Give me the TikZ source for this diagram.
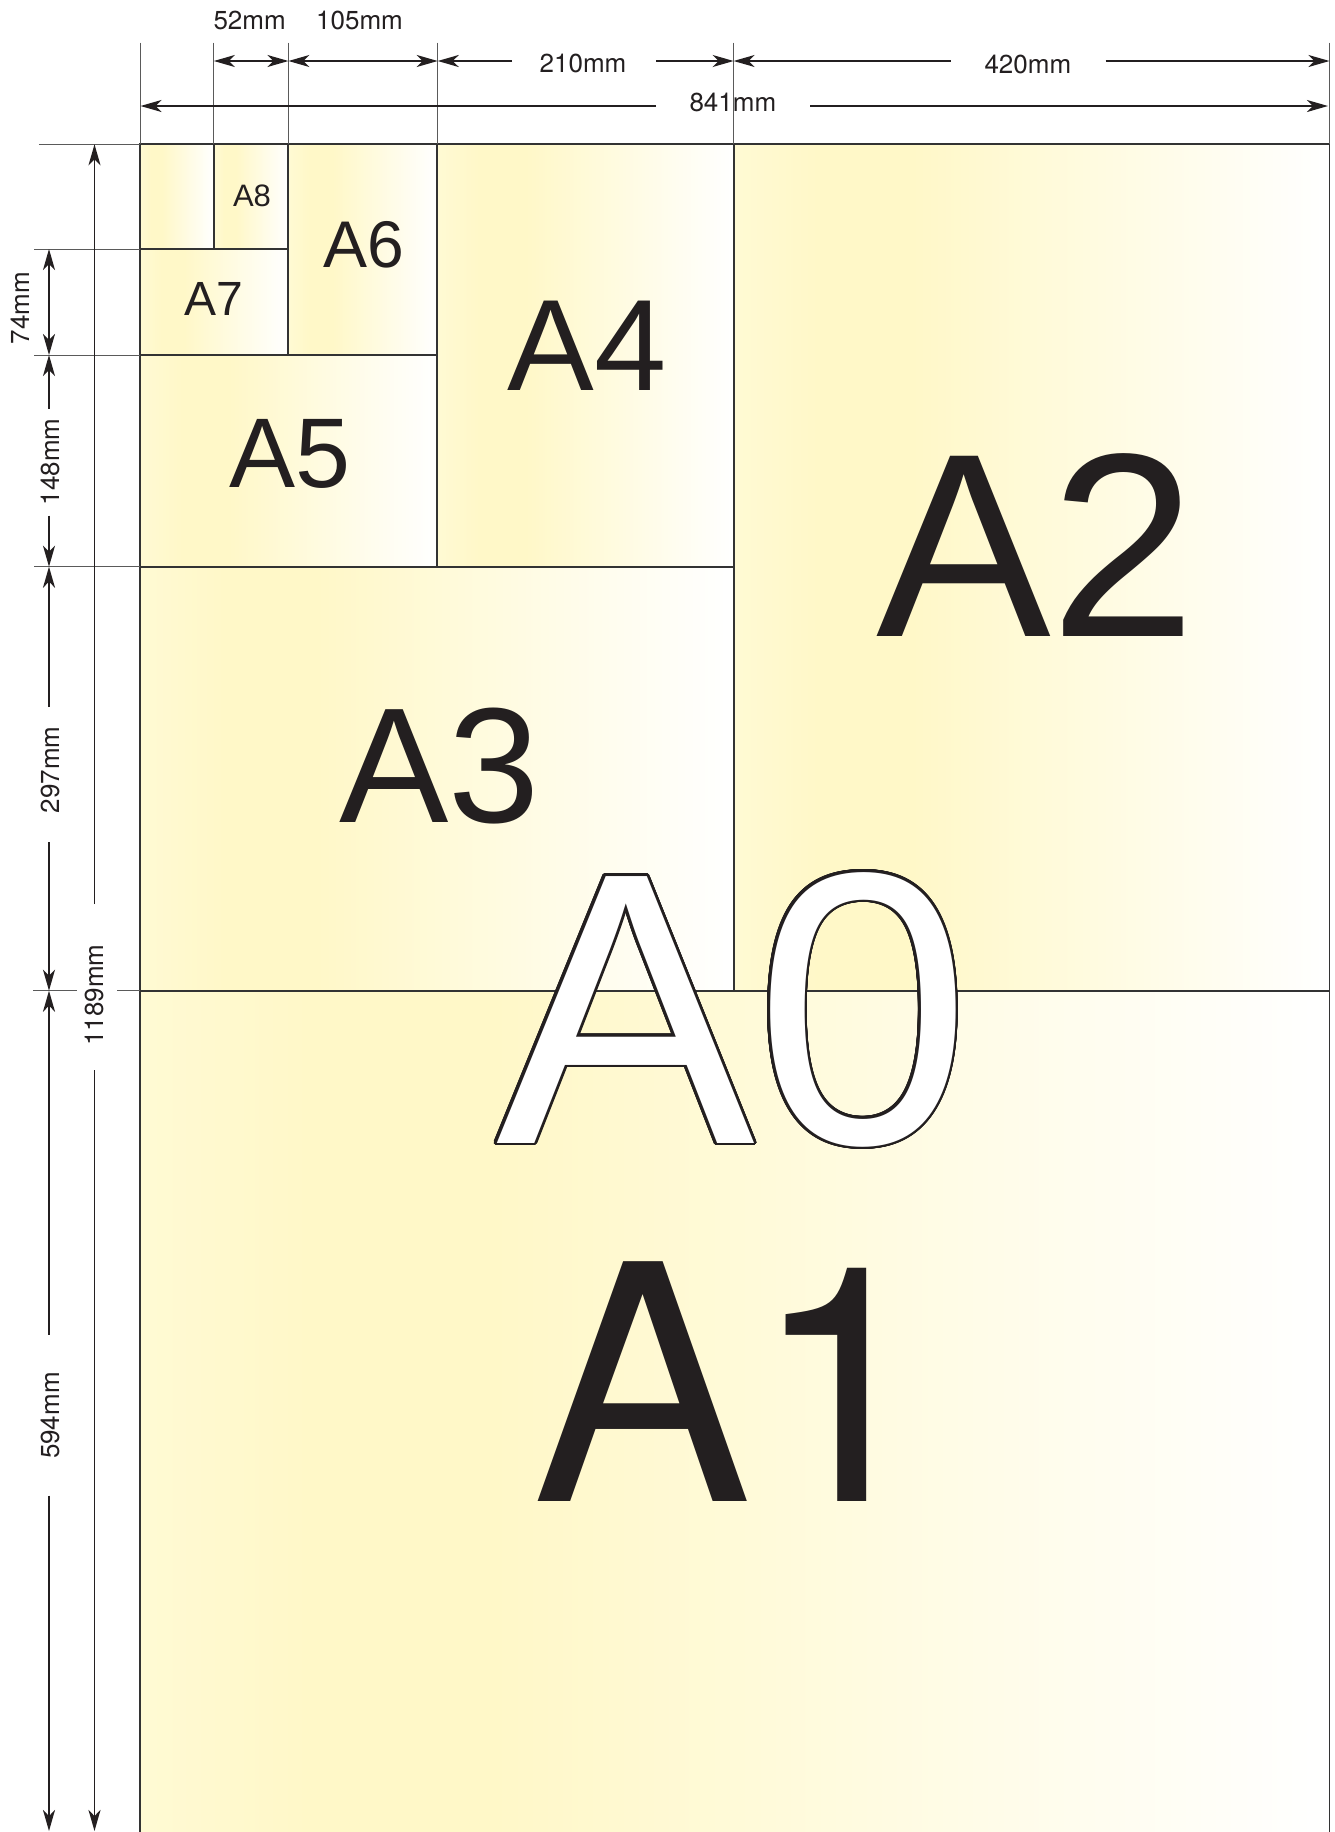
\documentclass[tikz,border=0pt]{standalone}
\usepackage{fontspec}
\setmainfont{Liberation Sans}
\newfontfamily\herosfont{TeX Gyre Heros}
\usepackage{contour}
\usetikzlibrary{arrows.meta}
\definecolor{ink}{HTML}{231F20}
\definecolor{pyA}{rgb}{1,0.98,0.83}
\definecolor{pyB}{rgb}{1,0.972,0.785}
\definecolor{extgray}{HTML}{5A5A5A}
\definecolor{edge}{HTML}{333333}
\pgfdeclarehorizontalshading{paper}{100bp}{color(0bp)=(pyA); color(25bp)=(pyA); color(32bp)=(pyB); color(40bp)=(pyB); color(75bp)=(white); color(100bp)=(white)}
\contourlength{2.8pt}
\contournumber{32}
\tikzset{
  dtip/.tip={Stealth[length=21pt,width=12pt,inset=6pt]},
  sheet/.style={shading=paper, draw=edge, line width=1.8pt},
  ext/.style={draw=extgray, line width=1pt},
  dim/.style={draw=ink, line width=1.8pt},
  dboth/.style={dim, dtip-dtip},
  dto/.style={dim, -dtip},
  lbl/.style={inner sep=0pt, anchor=base west, text=ink},
  dimlbl/.style={inner sep=0pt, anchor=base west, text=ink, font=\herosfont\fontsize{26}{26}\selectfont},
  vdimlbl/.style={inner sep=0pt, anchor=center, rotate=90, text=ink, font=\herosfont\fontsize{26}{26}\selectfont}
}
\begin{document}
\begin{tikzpicture}[x=1pt, y=-1pt]
\useasboundingbox (0,0) rectangle (1334,1832);
% sheets
\path[sheet] (140,990.7) rectangle (1329.5,1845);
\path[sheet] (733.8,144.3) rectangle (1329.5,990.7);
\path[sheet] (140,566.7) rectangle (733.8,990.7);
\path[sheet] (437.3,144.3) rectangle (733.8,566.7);
\path[sheet] (140,355) rectangle (437.3,566.7);
\path[sheet] (288,144.3) rectangle (437.3,355);
\path[sheet] (140,249) rectangle (288,355);
\path[sheet] (213.8,144.3) rectangle (288,249);
\path[sheet] (140,144.3) rectangle (213.8,249);
% size labels
\node[lbl, font=\fontsize{31}{31}\selectfont] (a8) at (232.8,206) {A8};
\node[lbl, font=\fontsize{48}{48}\selectfont] (a7) at (184.2,315) {A7};
\node[lbl, font=\fontsize{66}{66}\selectfont] (a6) at (323.7,267.5) {A6};
\node[lbl, font=\fontsize{99}{99}\selectfont] (a5) at (228.8,487.5) {A5};
\node[lbl, font=\fontsize{130}{130}\selectfont] (a4) at (507.5,390) {A4};
\node[lbl, font=\fontsize{164}{164}\selectfont] (a3) at (338.8,822) {A3};
\node[lbl, font=\fontsize{262}{262}\selectfont] (a2) at (876,636.6) {A2};
\node[lbl, font=\herosfont\fontsize{329}{329}\selectfont] (a1) at (532.5,1501) {A1};
\node[inner sep=0pt, anchor=base west, text=white, font=\fontsize{388}{388}\selectfont] (a0) at (496,1143) {\contour{ink}{A0}};
% extension lines
\foreach \x in {140,213.8,288.4,437.7,733.6,1329.5} \draw[ext] (\x,42.7) -- (\x,144.3);
\draw[ext] (38.8,144.3) -- (140,144.3);
\foreach \y in {249,355,566.7} \draw[ext] (34,\y) -- (140,\y);
\draw[ext] (33,990.7) -- (77,990.7);
\draw[ext] (117,990.7) -- (140,990.7);
% top dimensions
\draw[dboth] (213.8,61) -- (288.4,61);
\draw[dboth] (288.4,61) -- (437.7,61);
\draw[dto] (512,61) -- (437.7,61);
\draw[dto] (656,61) -- (733.6,61);
\draw[dto] (950.7,61) -- (733.6,61);
\draw[dto] (1105.6,61) -- (1329.5,61);
\draw[dto] (656,106) -- (140.5,106);
\draw[dto] (810,106) -- (1328,106);
\node[dimlbl] (l52) at (213.3,29.3) {52mm};
\node[dimlbl] (l105) at (316,29.3) {105mm};
\node[dimlbl] (l210) at (539.5,72.7) {210mm};
\node[dimlbl] (l420) at (984.3,73.3) {420mm};
\node[dimlbl] (l841) at (689.3,111) {841mm};
% left dimensions
\draw[dboth] (49,249) -- (49,355);
\draw[dto] (49,408.5) -- (49,355);
\draw[dto] (49,515.6) -- (49,566.7);
\draw[dto] (49,707) -- (49,566.7);
\draw[dto] (49,842) -- (49,990.7);
\draw[dto] (49,1334.6) -- (49,990.7);
\draw[dto] (49,1495.5) -- (49,1831);
\draw[dto] (94.5,904) -- (94.5,144.3);
\draw[dto] (94.5,1070) -- (94.5,1831);
\node[vdimlbl] (l74) at (19.8,308) {74mm};
\node[vdimlbl] (l148) at (50,462) {148mm};
\node[vdimlbl] (l297) at (50,770) {297mm};
\node[vdimlbl] (l594) at (50.8,1415.6) {594mm};
\node[vdimlbl] (l1189) at (94.2,995) {1189mm};
\end{tikzpicture}
\end{document}
